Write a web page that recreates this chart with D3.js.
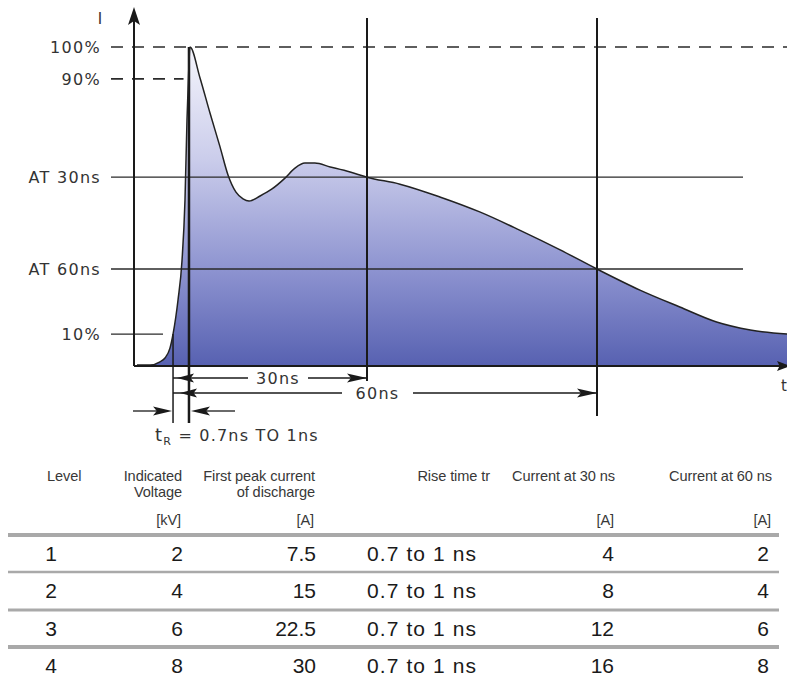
<!DOCTYPE html>
<html>
<head>
<meta charset="utf-8">
<script src="https://cdn.jsdelivr.net/npm/d3@7"></script>
<style>
  html, body { margin: 0; padding: 0; background: #fff; }
  svg { display: block; }
</style>
</head>
<body>
<svg id="chart" width="787" height="681"></svg>
<script>
// ---------------- DATA ----------------
// ESD discharge current waveform (time in ns, current in % of first peak)
const timeNs = [0, 1.7, 3.0, 3.65, 4.3, 4.7, 5.35, 5.87, 6.26, 6.52, 6.72, 6.91, 8.22, 9.52, 10.83, 11.87, 12.91, 13.83, 14.61, 16.05, 17.61, 19.3, 20.6, 21.9, 23.2, 25.2, 27.8, 30, 34.3, 39.5, 44.7, 49.9, 55.2, 60, 65.6, 70.8, 75.6, 80, 84.8];
const currentPct = [0.3, 0.3, 1.3, 2.5, 5.6, 10, 20.7, 33, 52, 77, 91, 100, 90.3, 79.3, 68.7, 59.9, 54.5, 52.4, 51.7, 53.3, 55.5, 58.9, 62, 63.6, 63.6, 62.4, 60.8, 59.2, 57, 53, 48.3, 42.6, 36.4, 30.4, 23.8, 18.5, 13.8, 11.3, 10];

// reference levels on the current axis
const levelLabels = ["100%", "90%", "AT 30ns", "AT 60ns", "10%"];
const levelValues = [100, 90, 59.2, 30.4, 10];

// timing markers
const markerTimes = [30, 60];
const markerLabels = ["30ns", "60ns"];
const tenPctTime = 4.7;
const peakTime = 6.91;
const riseLabel = ["t", "R", " = 0.7ns TO 1ns"];

// table
const headerLines = [["Level"], ["Indicated", "Voltage"], ["First peak current", "of discharge"], ["Rise time tr"], ["Current at 30 ns"], ["Current at 60 ns"]];
const unitLabels = ["", "[kV]", "[A]", "", "[A]", "[A]"];
const levels = [1, 2, 3, 4];
const voltageKV = [2, 4, 6, 8];
const peakCurrentA = [7.5, 15, 22.5, 30];
const riseTime = ["0.7 to 1 ns", "0.7 to 1 ns", "0.7 to 1 ns", "0.7 to 1 ns"];
const current30A = [4, 8, 12, 16];
const current60A = [2, 4, 6, 8];

// ---------------- DRAW ----------------
const svg = d3.select("#chart");
const x = d3.scaleLinear().domain([0, 60]).range([137, 597]);
const y = d3.scaleLinear().domain([0, 100]).range([366, 47]);
const axisX = 134, ink = "#1a1a1a";
const labelFont = "'DejaVu Sans', sans-serif";

const defs = svg.append("defs");
const grad = defs.append("linearGradient").attr("id", "fillGrad")
  .attr("gradientUnits", "userSpaceOnUse").attr("x1", 0).attr("x2", 0)
  .attr("y1", y(100)).attr("y2", y(0));
[[0, "#f5f5fc"], [0.35, "#cbcdeb"], [0.7, "#8d93d0"], [1, "#5761b1"]]
  .forEach(([o, c]) => grad.append("stop").attr("offset", o).attr("stop-color", c));

const pts = timeNs.map((t, i) => ({ t, v: currentPct[i] }));

svg.append("path").datum(pts)
  .attr("d", d3.area().x(d => x(d.t)).y0(y(0)).y1(d => y(d.v)).curve(d3.curveMonotoneX))
  .attr("fill", "url(#fillGrad)");

// level lines + labels
const levelStyle = {
  "100%": { end: 787, dash: "12,9" },
  "90%": { end: x(6.72) - 5, dash: "12,9" },
  "AT 30ns": { end: 743, dash: null },
  "AT 60ns": { end: 743, dash: null },
  "10%": { end: x(tenPctTime) - 10, dash: null }
};
levelLabels.forEach((lab, i) => {
  const yy = y(levelValues[i]);
  const st = levelStyle[lab];
  svg.append("line").attr("x1", 111).attr("x2", st.end).attr("y1", yy).attr("y2", yy)
    .attr("stroke", "#2a2a2a").attr("stroke-width", st.dash ? 1.6 : 1.3)
    .attr("stroke-dasharray", st.dash);
  svg.append("text").attr("x", 101).attr("y", yy + 6)
    .attr("text-anchor", "end").attr("font-family", labelFont).attr("font-size", 16)
    .attr("letter-spacing", 1.3).attr("fill", "#333").text(lab);
});

// vertical marker lines
markerTimes.forEach((t, i) => {
  svg.append("line").attr("x1", x(t)).attr("x2", x(t)).attr("y1", 18).attr("y2", i === 0 ? 381 : 416)
    .attr("stroke", ink).attr("stroke-width", 2);
});
svg.append("line").attr("x1", x(peakTime) - 1).attr("x2", x(peakTime) - 1).attr("y1", y(100)).attr("y2", 423)
  .attr("stroke", ink).attr("stroke-width", 2.5);
svg.append("line").attr("x1", x(tenPctTime)).attr("x2", x(tenPctTime)).attr("y1", y(10)).attr("y2", 423)
  .attr("stroke", ink).attr("stroke-width", 1.5);

// curve outline
svg.append("path").datum(pts)
  .attr("d", d3.line().x(d => x(d.t)).y(d => y(d.v)).curve(d3.curveMonotoneX))
  .attr("fill", "none").attr("stroke", "#222").attr("stroke-width", 1.5);

// axes
svg.append("line").attr("x1", axisX).attr("x2", axisX).attr("y1", 20).attr("y2", y(0))
  .attr("stroke", ink).attr("stroke-width", 2);
svg.append("line").attr("x1", axisX).attr("x2", 787).attr("y1", y(0)).attr("y2", y(0))
  .attr("stroke", ink).attr("stroke-width", 2);
function arrowH(xTip, yy, dir, len, half) {
  svg.append("path")
    .attr("d", `M${xTip},${yy} L${xTip - dir * len},${yy - half} L${xTip - dir * len * 0.8},${yy} L${xTip - dir * len},${yy + half} Z`)
    .attr("fill", ink);
}
svg.append("path").attr("d", `M${axisX},7 L${axisX - 6},25 L${axisX},21 L${axisX + 6},25 Z`).attr("fill", ink);
arrowH(790, y(0), 1, 13, 5);
svg.append("text").attr("x", 100).attr("y", 24).attr("text-anchor", "middle")
  .attr("font-family", labelFont).attr("font-size", 15).attr("fill", "#333").text("I");
svg.append("text").attr("x", 781).attr("y", 391)
  .attr("font-family", labelFont).attr("font-size", 15).attr("fill", "#333").text("t");

// dimension arrows
const dimY = [378, 393];
const gaps = [[248, 308], [342, 413]];
markerTimes.forEach((t, i) => {
  const yy = dimY[i];
  svg.append("line").attr("x1", x(tenPctTime)).attr("x2", gaps[i][0]).attr("y1", yy).attr("y2", yy)
    .attr("stroke", ink).attr("stroke-width", 1.3);
  svg.append("line").attr("x1", gaps[i][1]).attr("x2", x(t)).attr("y1", yy).attr("y2", yy)
    .attr("stroke", ink).attr("stroke-width", 1.3);
  arrowH(x(tenPctTime) + 4 + i * 3, yy, -1, 17, 4.5);
  arrowH(x(t), yy, 1, 20, 4.5);
  svg.append("text").attr("x", (gaps[i][0] + gaps[i][1]) / 2).attr("y", yy + 6)
    .attr("text-anchor", "middle").attr("font-family", labelFont).attr("font-size", 16)
    .attr("letter-spacing", 1.3).attr("fill", "#333").text(markerLabels[i]);
});
// rise time arrows
const ry = 411;
svg.append("line").attr("x1", 133).attr("x2", 160).attr("y1", ry).attr("y2", ry).attr("stroke", ink).attr("stroke-width", 1.3);
arrowH(x(tenPctTime) - 1, ry, 1, 19, 4.5);
svg.append("line").attr("x1", 205).attr("x2", 235).attr("y1", ry).attr("y2", ry).attr("stroke", ink).attr("stroke-width", 1.3);
arrowH(x(peakTime) + 1, ry, -1, 19, 4.5);
const rt = svg.append("text").attr("x", 155).attr("y", 441)
  .attr("font-family", labelFont).attr("font-size", 16).attr("letter-spacing", 1.2).attr("fill", "#333");
rt.append("tspan").attr("font-size", 18).text(riseLabel[0]);
rt.append("tspan").attr("font-size", 11).attr("dy", 4).text(riseLabel[1]);
rt.append("tspan").attr("dy", -4).text(riseLabel[2]);

// ---------------- TABLE ----------------
const tableFont = "'Liberation Sans', Arial, sans-serif";
const headAnchor = ["start", "end", "end", "end", "end", "end"];
const headX = [47, 182, 315, 490, 615, 772];
headerLines.forEach((lines, c) => {
  lines.forEach((ln, k) => {
    svg.append("text").attr("x", headX[c]).attr("y", 481 + k * 16)
      .attr("text-anchor", headAnchor[c]).attr("font-family", tableFont).attr("font-size", 14.6)
      .attr("letter-spacing", -0.1).attr("fill", "#383838").text(ln);
  });
  if (unitLabels[c]) {
    svg.append("text").attr("x", headX[c] - 1).attr("y", 525)
      .attr("text-anchor", "end").attr("font-family", tableFont).attr("font-size", 14.6)
      .attr("letter-spacing", -0.1).attr("fill", "#383838").text(unitLabels[c]);
  }
});

const sepY = [535, 572, 610, 647];
const sepW = [4, 2.5, 3, 4];
sepY.forEach((yy, i) => {
  svg.append("line").attr("x1", 8).attr("x2", 779).attr("y1", yy).attr("y2", yy)
    .attr("stroke", "#a9a9a9").attr("stroke-width", sepW[i]);
});

const columns = [levels, voltageKV, peakCurrentA, riseTime, current30A, current60A];
const colX = [51, 183, 316, 367, 614, 769];
const colAnchor = ["middle", "end", "end", "start", "end", "end"];
const colSpacing = [0, 0, 0, 1.1, 0, 0];
const rowY = [561, 598, 636, 673];
levels.forEach((_, r) => {
  columns.forEach((col, c) => {
    svg.append("text").attr("x", colX[c]).attr("y", rowY[r])
      .attr("text-anchor", colAnchor[c]).attr("font-family", tableFont).attr("font-size", 21)
      .attr("letter-spacing", colSpacing[c])
      .attr("fill", "#1a1a1a").text(col[r]);
  });
});
</script>
</body>
</html>
